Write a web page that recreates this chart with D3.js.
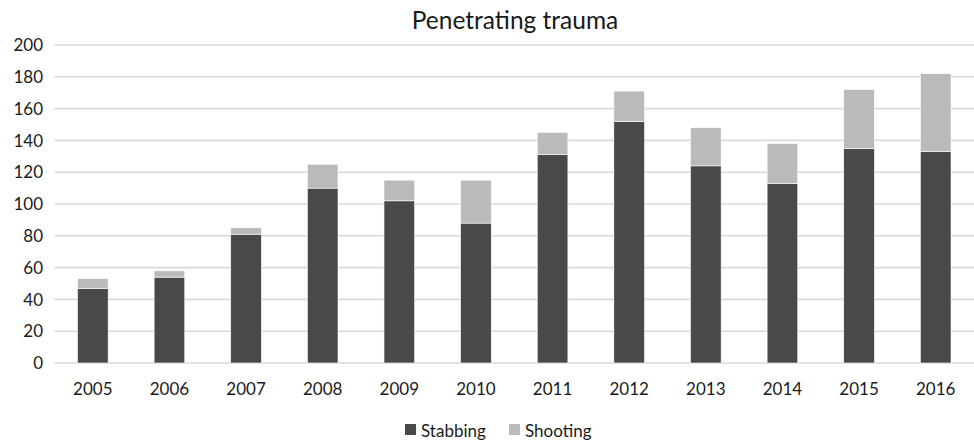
<!DOCTYPE html>
<html>
<head>
<meta charset="utf-8">
<script src="https://cdn.jsdelivr.net/npm/d3@7"></script>
<style>
  body { margin: 0; background: #fff; }
  svg { display: block; font-family: Lato, "Open Sans", sans-serif; }
</style>
</head>
<body>
<svg id="chart" width="974" height="441"></svg>
<script>
const years = ['2005','2006','2007','2008','2009','2010','2011','2012','2013','2014','2015','2016'];
const stabbing = [47, 54, 81, 110, 102, 88, 131, 152, 124, 113, 135, 133];
const shooting = [6, 4, 4, 15, 13, 27, 14, 19, 24, 25, 37, 49];
const yTicks = [0, 20, 40, 60, 80, 100, 120, 140, 160, 180, 200];
const seriesNames = ['Stabbing', 'Shooting'];
const colors = ['#494949', '#bababa'];

const svg = d3.select('svg#chart');

const x = d3.scaleBand()
  .domain(years)
  .range([54.5, 974])
  .paddingInner(0.6)
  .paddingOuter(0.3);

const y = d3.scaleLinear()
  .domain([0, 200])
  .range([363, 45]);

// gridlines
svg.append('g')
  .selectAll('line')
  .data(yTicks)
  .enter().append('line')
    .attr('x1', 54.5)
    .attr('x2', 974)
    .attr('y1', d => y(d))
    .attr('y2', d => y(d))
    .style('stroke', '#d9d9d9')
    .style('stroke-width', 1.6);

// y labels
svg.append('g')
  .selectAll('text')
  .data(yTicks)
  .enter().append('text')
    .attr('x', 43)
    .attr('y', d => y(d))
    .attr('dy', '0.36em')
    .attr('text-anchor', 'end')
    .style('font-size', '17px')
    .style('fill', '#1a1a1a')
    .text(d => d);

// stacked bars
const rows = years.map((yr, i) => ({ year: yr, Stabbing: stabbing[i], Shooting: shooting[i] }));
const stacked = d3.stack().keys(seriesNames)(rows);

svg.append('g')
  .selectAll('g')
  .data(stacked)
  .enter().append('g')
    .style('fill', (d, i) => colors[i])
  .selectAll('rect')
  .data(d => d)
  .enter().append('rect')
    .attr('x', d => x(d.data.year))
    .attr('width', x.bandwidth())
    .attr('y', d => y(d[1]))
    .attr('height', d => y(d[0]) - y(d[1]))
    .style('stroke', '#fff')
    .style('stroke-width', 0.6);

// x labels
svg.append('g')
  .selectAll('text')
  .data(years)
  .enter().append('text')
    .attr('x', d => x(d) + x.bandwidth() / 2)
    .attr('y', 395)
    .attr('text-anchor', 'middle')
    .style('font-size', '17px')
    .style('fill', '#1a1a1a')
    .text(d => d);

// title
svg.append('text')
  .attr('x', 515)
  .attr('y', 29)
  .attr('text-anchor', 'middle')
  .style('font-size', '24.5px')
  .style('fill', '#1a1a1a')
  .text('Penetrating trauma');

// legend
const legendX = [405, 509];
const legend = svg.append('g')
  .selectAll('g')
  .data(seriesNames)
  .enter().append('g')
    .attr('transform', (d, i) => `translate(${legendX[i]},424)`);

legend.append('rect')
  .attr('width', 11)
  .attr('height', 11)
  .style('fill', (d, i) => colors[i]);

legend.append('text')
  .attr('x', 16)
  .attr('y', 12.5)
  .style('font-size', '17px')
  .style('fill', '#1a1a1a')
  .text(d => d);
</script>
</body>
</html>
